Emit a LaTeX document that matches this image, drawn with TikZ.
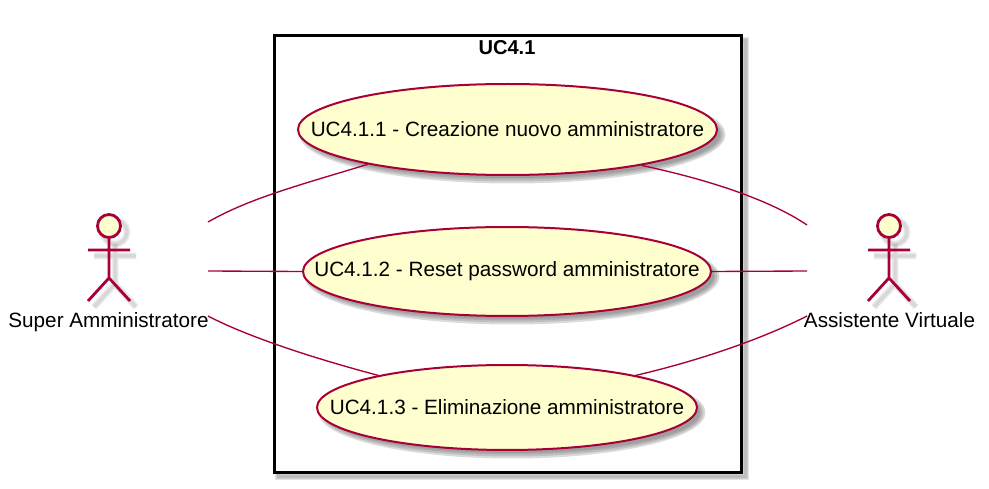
\documentclass[tikz,border=0pt]{standalone}
\usepackage{fontspec}
\setmainfont{Liberation Sans}
\definecolor{umlred}{HTML}{A80036}
\definecolor{umlfill}{HTML}{FEFECE}
\definecolor{umlshade}{HTML}{7A7A7A}
\usetikzlibrary{shapes.geometric}
\tikzset{
  ucase/.style={ellipse,draw=umlred,fill=umlfill,line width=2pt,inner sep=0pt,text=black,font=\fontsize{20.7}{24}\selectfont},
  sysframe/.style={rectangle,draw=black,line width=3pt,fill=white,inner sep=0pt},
  conn/.style={draw=umlred,line width=1.35pt},
  stick/.style={draw=umlred,line width=2.8pt},
  label/.style={text=black,inner sep=0pt,anchor=base,font=\fontsize{20.7}{24}\selectfont},
  shade/.style={draw=umlshade,draw opacity=.2,line width=#1},
  softshade/.style={draw=umlshade,draw opacity=.11,line width=#1}
}
\newcommand{\ucshade}[4]{%
  \foreach \w in {6,4,2,.5}{%
    \fill[umlshade,fill opacity=.27] (#1+5,#2+5) ellipse [x radius=#3pt+\w pt-2.5pt,y radius=#4pt+\w pt-2.5pt];}}
\newcommand{\stickman}[1]{%
  \begin{scope}[shift={(#1+6,6)}]
    \foreach \w in {7,5,3}{%
      \draw[softshade=\w pt] (0,226) circle (12pt);
      \draw[softshade=\w pt] (0,238)--(0,278) (-21,250)--(21,250) (-21,301)--(0,278)--(21,301);}
  \end{scope}
  \draw[stick,fill=umlfill] (#1,226) circle (11.5pt);
  \draw[stick] (#1,238)--(#1,278) (#1-21,250)--(#1+21,250) (#1-21,301)--(#1,278)--(#1+21,301);}
\begin{document}
\begin{tikzpicture}[x=1pt,y=-1pt]
  \useasboundingbox (0,0) rectangle (989,489);
  \fill[white] (0,0) rectangle (989,489);
  % frame shadow
  \foreach \w in {7,5,3}{\draw[shade=\w pt] (278.5,40.5) rectangle (745.5,476.5);}
  \node[sysframe,minimum width=467pt,minimum height=436pt] (uc) at (507.5,254) {};
  \node[label,font=\fontsize{20.1}{24}\selectfont\bfseries] (title) at (507,55) {UC4.1};
  % use-case shadows
  \ucshade{507.5}{129.5}{209.5}{45.5}
  \ucshade{507}{271.5}{204}{44.5}
  \ucshade{507}{407.5}{190}{42.5}
  \node[ucase,minimum width=419pt,minimum height=91pt] (e1) at (507.5,129.5) {\makebox[0pt]{UC4.1.1 - Creazione nuovo amministratore}};
  \node[ucase,minimum width=408pt,minimum height=89pt] (e2) at (507,271.5) {\makebox[0pt]{UC4.1.2 - Reset password amministratore}};
  \node[ucase,minimum width=380pt,minimum height=85pt] (e3) at (507,407.5) {\makebox[0pt]{UC4.1.3 - Eliminazione amministratore}};
  % actors
  \stickman{109}
  \stickman{889}
  \node[label] (sa) at (108.5,327) {Super Amministratore};
  \node[label] (av) at (889.5,327) {Assistente Virtuale};
  \coordinate (sa1) at (208,222);
  \coordinate (sa2) at (208,271);
  \coordinate (sa3) at (208,316);
  \coordinate (av1) at (807,225);
  \coordinate (av2) at (807,271);
  \coordinate (av3) at (807,316);
  % connectors
  \draw[conn] (sa1) .. controls (250,198) and (300,185) .. (e1.194.3);
  \draw[conn] (sa2) -- (e2.west);
  \draw[conn] (sa3) .. controls (250,338) and (320,360) .. (e3.166.3);
  \draw[conn] (e1.-15) .. controls (710,180) and (770,200) .. (av1);
  \draw[conn] (e2.east) -- (av2);
  \draw[conn] (e3.14) .. controls (710,358) and (770,335) .. (av3);
\end{tikzpicture}
\end{document}
